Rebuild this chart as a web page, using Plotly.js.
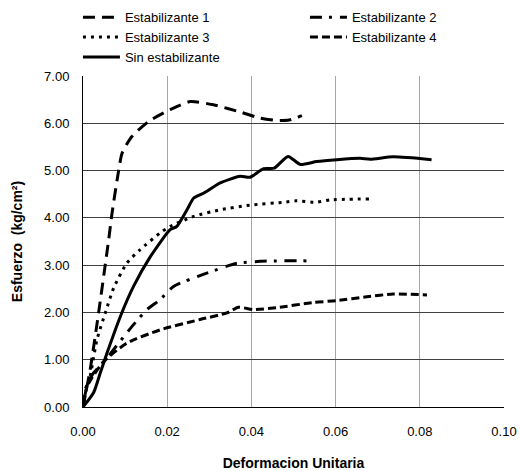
<!DOCTYPE html>
<html>
<head>
<meta charset="utf-8">
<script src="https://cdn.plot.ly/plotly-3.0.1.min.js"></script>
<style>html,body{margin:0;padding:0;background:#fff;}#chart{width:521px;height:471px;}</style>
</head>
<body>
<div id="chart"></div>
<script>
// Data
const est1X = [0, 0.0017, 0.0037, 0.0061, 0.0069, 0.0085, 0.0093, 0.0116, 0.0156, 0.0207, 0.0255, 0.031, 0.0373, 0.042, 0.046, 0.049, 0.052];
const est1Y = [0, 0.79, 1.99, 3.54, 4.10, 5.02, 5.37, 5.72, 6.04, 6.29, 6.46, 6.39, 6.24, 6.11, 6.06, 6.07, 6.16];

const est2X = [0, 0.0005, 0.0025, 0.0049, 0.0116, 0.0152, 0.0183, 0.0215, 0.0294, 0.0366, 0.0421, 0.046, 0.054];
const est2Y = [0, 0.37, 0.72, 0.95, 1.70, 2.06, 2.27, 2.55, 2.83, 3.04, 3.08, 3.09, 3.09];

const est3X = [0, 0.0001, 0.0017, 0.0033, 0.0053, 0.0073, 0.0104, 0.0136, 0.0183, 0.0207, 0.0263, 0.0326, 0.0397, 0.0476, 0.0506, 0.0555, 0.0587, 0.0682];
const est3Y = [0, 0.15, 0.65, 1.42, 1.99, 2.52, 3.04, 3.33, 3.68, 3.82, 4.03, 4.17, 4.27, 4.33, 4.36, 4.33, 4.38, 4.40];

const est4X = [0, 0.001, 0.0049, 0.0104, 0.0183, 0.0278, 0.0342, 0.0369, 0.0405, 0.046, 0.0547, 0.0603, 0.0674, 0.0737, 0.0817];
const est4Y = [0, 0.44, 0.96, 1.35, 1.63, 1.85, 1.99, 2.11, 2.06, 2.10, 2.21, 2.25, 2.33, 2.39, 2.37];

const sinX = [0, 0.0025, 0.0041, 0.0057, 0.0089, 0.012, 0.016, 0.0207, 0.0223, 0.0247, 0.0263, 0.0286, 0.0326, 0.0373, 0.0397, 0.0429, 0.0454, 0.0487, 0.0516, 0.0555, 0.0603, 0.0658, 0.0682, 0.0737, 0.0828];
const sinY = [0, 0.30, 0.72, 1.14, 1.92, 2.55, 3.18, 3.75, 3.82, 4.17, 4.42, 4.52, 4.74, 4.88, 4.86, 5.04, 5.05, 5.30, 5.13, 5.19, 5.23, 5.26, 5.24, 5.29, 5.23];

const seriesNames = ["Estabilizante 1", "Estabilizante 2", "Estabilizante 3", "Estabilizante 4", "Sin estabilizante"];
const yTicks = [0, 1, 2, 3, 4, 5, 6, 7];
const xTicks = [0, 0.02, 0.04, 0.06, 0.08, 0.10];

const common = {type: 'scatter', mode: 'lines', hoverinfo: 'skip'};
const traces = [
  Object.assign({}, common, {x: est1X, y: est1Y, name: seriesNames[0], line: {color: '#000', width: 3, dash: '12px,7px', shape: 'spline', smoothing: 0.6}}),
  Object.assign({}, common, {x: est2X, y: est2Y, name: seriesNames[1], line: {color: '#000', width: 3, dash: '12px,7px,3px,8px', shape: 'spline', smoothing: 0.6}}),
  Object.assign({}, common, {x: est3X, y: est3Y, name: seriesNames[2], line: {color: '#000', width: 3, dash: '3px,5px', shape: 'spline', smoothing: 0.6}}),
  Object.assign({}, common, {x: est4X, y: est4Y, name: seriesNames[3], line: {color: '#000', width: 3, dash: '8px,4px', shape: 'spline', smoothing: 0.6}}),
  Object.assign({}, common, {x: sinX, y: sinY, name: seriesNames[4], line: {color: '#000', width: 3, shape: 'spline', smoothing: 0.6}})
];

const layout = {
  width: 521, height: 471,
  margin: {l: 83, r: 17, t: 76, b: 64, autoexpand: false},
  paper_bgcolor: '#fff', plot_bgcolor: '#fff',
  font: {family: 'Liberation Sans, Arial, sans-serif', size: 13, color: '#000'},
  showlegend: true,
  legend: {
    orientation: 'h', x: -0.012, xanchor: 'left', y: 1.223, yanchor: 'top',
    entrywidth: 175, entrywidthmode: 'pixels', itemwidth: 37,
    font: {family: 'Liberation Sans, Arial, sans-serif', size: 13, color: '#000'},
    bgcolor: 'rgba(0,0,0,0)', tracegroupgap: 0, traceorder: 'normal'
  },
  xaxis: {
    range: [0, 0.10], tickvals: xTicks, tickformat: '.2f',
    showgrid: true, gridcolor: '#a6a6a6', gridwidth: 1,
    zeroline: false, showline: true, linecolor: '#000', linewidth: 1,
    ticks: '', ticklabelstandoff: 12, tickfont: {size: 13},
    title: {text: '<b>Deformacion Unitaria</b>', font: {size: 14}, standoff: 20},
    fixedrange: true
  },
  yaxis: {
    range: [0, 7], tickvals: yTicks, tickformat: '.2f',
    showgrid: true, gridcolor: '#404040', gridwidth: 1,
    zeroline: false, showline: true, linecolor: '#000', linewidth: 1,
    ticks: '', ticklabelstandoff: 10, tickfont: {size: 13},
    title: {text: '<b>Esfuerzo  (kg/cm²)</b>', font: {size: 14}, standoff: 18},
    fixedrange: true
  }
};

Plotly.newPlot('chart', traces, layout, {staticPlot: true, displayModeBar: false});
</script>
</body>
</html>
